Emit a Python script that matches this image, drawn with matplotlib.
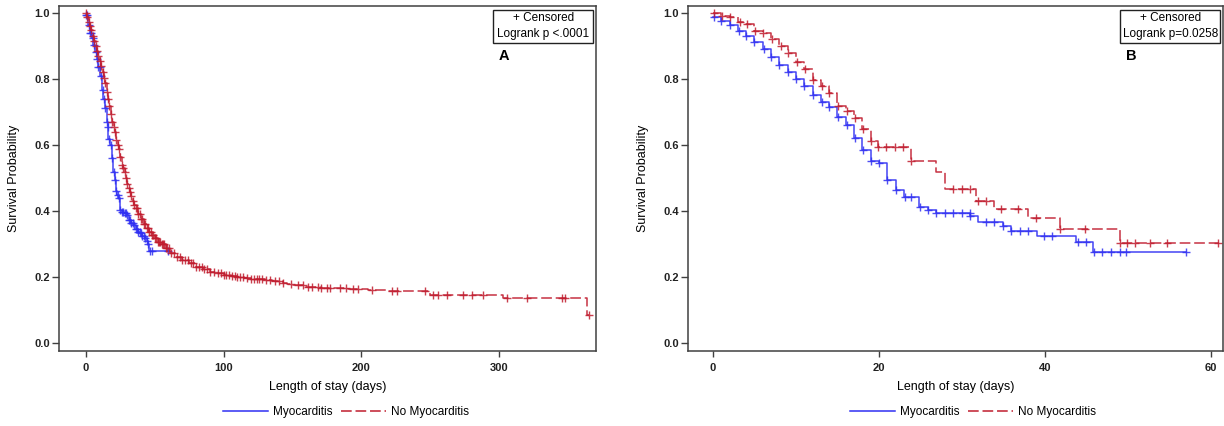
import numpy as np
import matplotlib
matplotlib.use("Agg")
import matplotlib.pyplot as plt
from matplotlib.patches import Rectangle

plt.rcParams['font.family'] = ['Liberation Sans', 'DejaVu Sans']

# ---------------- Panel A data ----------------
a_blue_t = [0, 1.7, 3, 4.1, 5.3, 6.5, 7.7, 8.9, 10.1, 11.4, 12.6, 13.8, 15, 15.7, 16.3, 17.4,
            18.6, 19.8, 21, 21.8, 22.7, 23.5, 24.7, 26, 27.5, 29.5, 31, 32.5, 34.4, 36, 37.6,
            39.2, 41, 42.5, 44, 45, 46]
a_blue_s = [0.995, 0.965, 0.94, 0.925, 0.905, 0.884, 0.86, 0.838, 0.81, 0.768, 0.74, 0.712,
            0.67, 0.656, 0.62, 0.60, 0.56, 0.52, 0.495, 0.46, 0.45, 0.44, 0.404, 0.398, 0.394,
            0.389, 0.375, 0.365, 0.358, 0.345, 0.338, 0.333, 0.325, 0.318, 0.31, 0.30, 0.28]
a_blue_end = 59.5
a_blue_cens = [0, 1, 2, 3, 4, 5, 6, 7, 8, 9, 10, 11, 12, 13, 14, 15, 16, 17, 18, 19, 20, 21,
               22, 23, 24, 25, 26, 27, 28, 29, 30, 31, 32, 33, 34, 35, 36, 37, 38, 39, 40, 41,
               42, 43, 44, 45, 46.5, 48, 59.5]

a_red_t = [0, 1, 2, 3, 4, 5, 6, 7, 8, 9, 10, 11, 12, 13, 14, 15, 16, 17, 18, 19, 20, 21, 22,
           23, 24, 25, 26, 27, 28, 29, 30, 31, 32, 33, 34, 35, 36, 38, 40, 42, 44, 46, 48, 50,
           52, 55, 58, 61, 65, 70, 75, 80, 85, 90, 95, 100, 105, 110, 115, 120, 125, 130, 135,
           140, 143, 146, 150, 160, 170, 178, 190, 205, 218, 250, 303, 364]
a_red_s = [1.0, 0.99, 0.975, 0.96, 0.948, 0.93, 0.915, 0.9, 0.885, 0.87, 0.855, 0.84, 0.822,
           0.805, 0.79, 0.76, 0.74, 0.72, 0.695, 0.672, 0.656, 0.64, 0.615, 0.6, 0.59, 0.565,
           0.54, 0.53, 0.518, 0.5, 0.482, 0.47, 0.458, 0.445, 0.432, 0.42, 0.41, 0.392, 0.378,
           0.362, 0.35, 0.338, 0.328, 0.318, 0.308, 0.30, 0.29, 0.275, 0.262, 0.252, 0.242,
           0.232, 0.224, 0.217, 0.212, 0.208, 0.205, 0.202, 0.199, 0.196, 0.194, 0.192, 0.19,
           0.188, 0.184, 0.18, 0.177, 0.172, 0.169, 0.166, 0.164, 0.162, 0.159, 0.146, 0.136,
           0.086]
a_red_end = 365
a_red_cens = [0, 1, 2, 3, 4, 5, 6, 7, 8, 9, 10, 11, 12, 13, 14, 15, 16, 17, 18, 19, 20, 21,
              22, 23, 24, 25, 26, 27, 28, 29, 30, 31, 32, 33, 34, 35, 36, 37, 38, 39, 40, 41,
              42, 43, 44, 45, 46, 47, 48, 49, 50, 51, 52, 53, 54, 55, 56, 57, 58, 59, 60, 62,
              64, 66, 68, 70, 72, 74, 76, 78, 80, 82, 84, 86, 88, 90, 93, 96, 98, 100, 102, 104,
              106, 108, 110, 112, 114, 117, 120, 122, 124, 126, 128, 131, 134, 137, 140, 143,
              149, 154, 157.6, 161, 164, 168.5, 171, 175, 177, 184.5, 189, 194, 197.5, 208,
              222, 225.6, 246, 252, 256, 262, 274, 280, 288, 306, 320, 345.5, 348, 365]

# ---------------- Panel B data ----------------
b_blue_t = [0, 1, 2, 3, 4, 5, 6, 7, 8, 9, 10, 11, 12, 13, 14, 15, 16, 17, 18, 19, 20, 21, 22,
            23, 24.8, 25.9, 26.9, 31, 31.9, 34.9, 35.9, 39, 43.8, 45.8]
b_blue_s = [0.988, 0.978, 0.965, 0.947, 0.931, 0.914, 0.891, 0.869, 0.843, 0.823, 0.800,
            0.780, 0.752, 0.732, 0.715, 0.687, 0.662, 0.621, 0.586, 0.553, 0.547, 0.495, 0.465,
            0.443, 0.413, 0.403, 0.394, 0.386, 0.368, 0.355, 0.341, 0.325, 0.308, 0.278]
b_blue_end = 57
b_blue_cens = [0.1, 1, 2, 3.2, 4, 5, 6.1, 7, 8, 9, 10, 11, 12, 13.1, 14, 15.1, 16.1, 17.1,
               18.1, 19, 20, 21, 22, 23.1, 23.9, 24.9, 25.9, 26.9, 27.9, 28.95, 29.95, 30.95,
               31.0, 32.9, 33.9, 34.9, 35.9, 37, 38, 39.9, 40.9, 44.0, 44.9, 45.9, 46.9, 47.9,
               49.0, 49.8, 57.0]

b_red_t = [0, 1, 2, 3, 4, 5, 6, 7, 8, 9, 10, 11, 12, 13, 14, 15, 16, 17, 18, 19, 19.9, 23.9,
           26.9, 27.9, 31.7, 33.9, 38.0, 41.8, 49.0]
b_red_s = [1.0, 0.992, 0.988, 0.975, 0.967, 0.947, 0.939, 0.921, 0.901, 0.879, 0.853, 0.830,
           0.798, 0.780, 0.759, 0.719, 0.705, 0.682, 0.648, 0.614, 0.594, 0.551, 0.520, 0.467,
           0.431, 0.406, 0.379, 0.345, 0.305]
b_red_end = 61
b_red_cens = [0.16, 1.05, 2.05, 3.25, 4.06, 5.06, 6.06, 7.07, 8.15, 9.07, 10.08, 11.08, 12.0,
              13.1, 14.0, 15.1, 16.1, 17.1, 18.1, 19.0, 19.9, 20.9, 21.9, 22.9, 23.9, 28.95,
              29.95, 30.95, 31.9, 32.9, 34.7, 36.8, 38.9, 41.8, 44.8, 49.0, 49.9, 50.8, 52.7,
              54.7, 60.9]

group_labels = ['Myocarditis', 'No Myocarditis']
y_ticks = [0.0, 0.2, 0.4, 0.6, 0.8, 1.0]
a_x_ticks = [0, 100, 200, 300]
b_x_ticks = [0, 20, 40, 60]
panel_letters = ['A', 'B']
pvals = ['Logrank p <.0001', 'Logrank p=0.0258']

BLUE = '#2f2ff2'
RED = '#c01c2e'
SPINE = '#404040'

fig = plt.figure(figsize=(12.24, 4.26), dpi=100)
axA = fig.add_axes([59 / 1224, 75.3 / 426, 537 / 1224, 345 / 426])
axB = fig.add_axes([688 / 1224, 75.3 / 426, 535 / 1224, 345 / 426])


def surv_at(t_list, s_list, times):
    t = np.asarray(t_list)
    s = np.asarray(s_list)
    idx = np.searchsorted(t, np.asarray(times), side='right') - 1
    idx = np.clip(idx, 0, len(s) - 1)
    return s[idx]


def draw_curve(ax, t, s, end, cens, color, dashed):
    tx = list(t) + [end]
    sx = list(s) + [s[-1]]
    kw = dict(color=color, lw=1.1, where='post', alpha=0.9)
    if dashed:
        line, = ax.step(tx, sx, **kw)
        line.set_dashes([7, 2.5])
    else:
        ax.step(tx, sx, **kw)
    ax.plot(cens, surv_at(t, s, cens), linestyle='none', marker='+', ms=5.5, mew=1.0,
            color=color, alpha=0.85)


draw_curve(axA, a_blue_t, a_blue_s, a_blue_end, a_blue_cens, BLUE, False)
draw_curve(axA, a_red_t, a_red_s, a_red_end, a_red_cens, RED, True)
draw_curve(axB, b_blue_t, b_blue_s, b_blue_end, b_blue_cens, BLUE, False)
draw_curve(axB, b_red_t, b_red_s, b_red_end, b_red_cens, RED, True)

axA.set_xlim(-19.6, 370.4)
axB.set_xlim(-3.0, 61.45)

for ax, xt, letter, pv, legx in [(axA, a_x_ticks, 'A', pvals[0], 346 / 1224),
                                  (axB, b_x_ticks, 'B', pvals[1], 973 / 1224)]:
    ax.set_ylim(-0.0225, 1.023)
    ax.set_yticks(y_ticks)
    ax.set_yticklabels([f'{v:.1f}' for v in y_ticks])
    ax.set_xticks(xt)
    ax.tick_params(axis='y', length=5, width=1, color=SPINE, pad=1.5, labelsize=8)
    ax.tick_params(axis='x', length=4, width=1, color=SPINE, pad=5, labelsize=8)
    for lab in ax.get_xticklabels() + ax.get_yticklabels():
        lab.set_fontweight('bold')
        lab.set_color('#222222')
    for sp in ax.spines.values():
        sp.set_color(SPINE)
        sp.set_linewidth(1.1)
    ax.set_xlabel('Length of stay (days)', fontsize=9)
    ax.set_ylabel('Survival Probability', fontsize=9)
    ax.yaxis.set_label_coords(-0.073, 0.5)
    ax.xaxis.set_label_coords(0.5, -0.087)
    # inset box
    ax.add_patch(Rectangle((0.808, 0.893), 0.187, 0.0945, transform=ax.transAxes,
                           fill=False, edgecolor='#222222', lw=1.0, zorder=5))
    ax.text(0.9015, 0.963, '+ Censored', transform=ax.transAxes, ha='center', va='center',
            fontsize=8.5)
    ax.text(0.9015, 0.918, pv, transform=ax.transAxes, ha='center', va='center', fontsize=8.5)
    ax.text(0.829, 0.855, letter, transform=ax.transAxes, ha='center', va='center',
            fontsize=10.5, fontweight='bold')
    # bottom legend
    h1, = ax.plot([], [], color=BLUE, lw=1.1)
    h2, = ax.plot([], [], color=RED, lw=1.1)
    h2.set_dashes([7, 2.5])
    fig.legend([h1, h2], group_labels, loc='center', bbox_to_anchor=(legx, 0.033),
               ncol=2, frameon=False, fontsize=8.5, handlelength=3.8, handletextpad=0.4,
               columnspacing=0.8)

fig.savefig('out.png', dpi=100)
